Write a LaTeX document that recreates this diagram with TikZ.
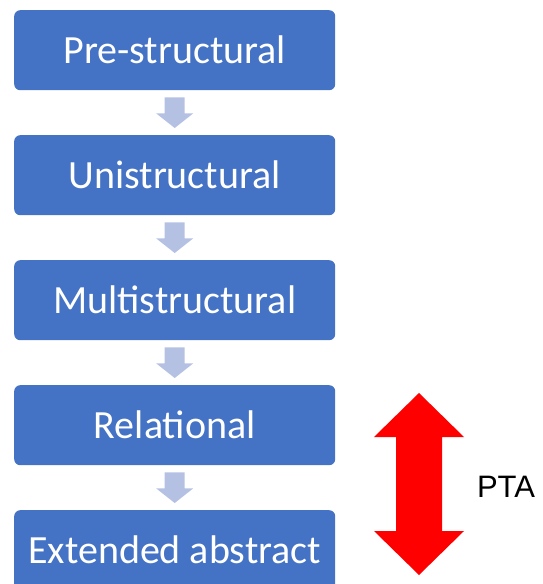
\documentclass[tikz,border=0pt]{standalone}
\usepackage{fontspec}
\setmainfont{Carlito}
\newfontfamily\ptafont{Liberation Sans}
\usetikzlibrary{calc}
\definecolor{boxblue}{RGB}{68,114,196}
\definecolor{lightarrow}{RGB}{180,193,227}
\definecolor{ptared}{RGB}{255,0,0}
\begin{document}
\begin{tikzpicture}[x=1pt,y=-1pt,
  stagebox/.style={fill=boxblue,draw=none,rounded corners=6pt,minimum width=321pt,minimum height=80pt,
    text=white,font=\fontsize{40}{46}\selectfont,inner sep=0pt,anchor=north west},
  smallarrow/.style={fill=lightarrow,draw=none}]
\useasboundingbox (0,0) rectangle (542,584);
\begin{scope}
\clip (0,0) rectangle (542,584);
\node[stagebox] (b1) at (14,10) {Pre-structural};
\node[stagebox] (b2) at (14,135) {Unistructural};
\node[stagebox] (b3) at (14,260) {Multistructural};
\node[stagebox] (b4) at (14,385) {Relational};
\node[stagebox] (b5) at (14,510) {Extended abstract};
\end{scope}
\foreach \a/\b in {b1/b2,b2/b3,b3/b4,b4/b5}{
  \fill[smallarrow] ($(\a.south)+(-10,7)$) -- ($(\a.south)+(10,7)$) -- ($(\a.south)+(10,23)$)
    -- ($(\a.south)+(18.5,23)$) -- ($(\b.north)+(0,-7)$) -- ($(\a.south)+(-18.5,23)$)
    -- ($(\a.south)+(-10,23)$) -- cycle;
}
\coordinate (ptatop) at (419,393);
\coordinate (ptabot) at (419,575);
\fill[ptared] (ptatop) -- ($(ptatop)+(45,44)$) -- ($(ptatop)+(23,44)$) -- ($(ptabot)+(23,-44)$)
  -- ($(ptabot)+(45,-44)$) -- (ptabot) -- ($(ptabot)+(-45,-44)$) -- ($(ptabot)+(-23,-44)$)
  -- ($(ptatop)+(-23,44)$) -- ($(ptatop)+(-45,44)$) -- cycle;
\node[font=\ptafont\fontsize{31}{36}\selectfont,inner sep=0pt] (pta) at (506,487) {PTA};
\end{tikzpicture}
\end{document}
